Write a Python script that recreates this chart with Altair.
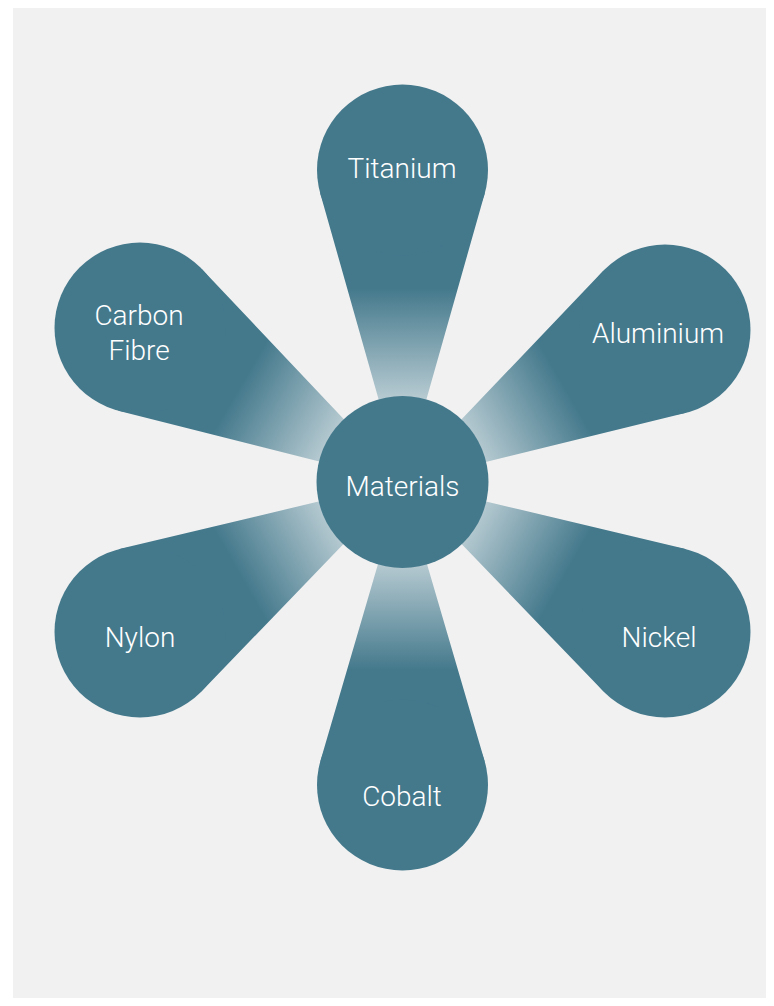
import altair as alt
import numpy as np
import pandas as pd

# ---- data (in reference pixel coordinates) ----
names = ["Titanium", "Aluminium", "Nickel", "Cobalt", "Nylon", "Carbon Fibre"]
end_x = [402.5, 665.0, 665.0, 402.5, 140.0, 140.0]
end_y = [170.0, 330.0, 632.0, 785.0, 632.0, 328.0]
label_x = [402.0, 658.0, 659.0, 402.0, 140.0, 139.0]
label_y = [170.0, 335.0, 639.0, 798.0, 639.0, 317.0]
center_name = "Materials"
center_x = 402.5
center_y = 482.0
center_label_y = 488.0

# ---- style ----
DARK = "#44798c"
BG = "#f1f1f1"
PETAL_D = 171.0
CENTER_D = 172.0
FONT = "Roboto"

X0, X1 = 13, 766
Y0, Y1 = 8, 998

xs = alt.Scale(domain=[X0, X1], nice=False, zero=False)
ys = alt.Scale(domain=[Y0, Y1], nice=False, zero=False, reverse=True)

R = PETAL_D / 2


def tangent_geom(i):
    """Trail end (where the sides touch the petal circle) and its width."""
    ax = end_x[i] - center_x
    ay = end_y[i] - center_y
    L = np.hypot(ax, ay)
    D = (L * L - R * R) / L
    rc = R * np.sqrt(L * L - R * R) / L
    ux, uy = ax / L, ay / L
    return ax, ay, L, D, rc, ux, uy


trail_rows = []
for i, n in enumerate(names):
    ax, ay, L, D, rc, ux, uy = tangent_geom(i)
    trail_rows.append({"name": n, "x": center_x, "y": center_y, "w": 0.0, "i": 0})
    trail_rows.append({"name": n, "x": center_x + ux * D, "y": center_y + uy * D,
                       "w": 2 * rc, "i": 1})
trail_df = pd.DataFrame(trail_rows)

circ_df = pd.DataFrame({"name": names, "x": end_x, "y": end_y})
lab_df = pd.DataFrame({"name": names, "x": label_x, "y": label_y})
cen_df = pd.DataFrame({"name": [center_name], "x": [center_x], "y": [center_y],
                       "ly": [center_label_y]})


def gradient_for(i):
    ax, ay, L, D, rc, ux, uy = tangent_geom(i)
    u = np.array([ux, uy])
    perp = np.array([-uy, ux])
    th = np.linspace(-np.pi / 2, np.pi / 2, 721)
    ex, ey = center_x + ux * D, center_y + uy * D
    px = ex + rc * (np.cos(th) * u[0] + np.sin(th) * perp[0])
    py = ey + rc * (np.cos(th) * u[1] + np.sin(th) * perp[1])
    px = np.append(px, center_x)
    py = np.append(py, center_y)
    xmin, xmax, ymin, ymax = px.min(), px.max(), py.min(), py.max()
    w, h = xmax - xmin, ymax - ymin
    p1 = np.array([(center_x - xmin) / w, (center_y - ymin) / h])
    c = np.array([ax / w, ay / h])
    g0 = np.array([ax / h, ay / w])
    t0 = c.dot(g0) / g0.dot(g0)
    p2 = p1 + g0 * t0
    return alt.LinearGradient(
        gradient="linear",
        stops=[
            alt.GradientStop(offset=0.0, color="#f2f5f6"),
            alt.GradientStop(offset=0.27, color="#b6cad1"),
            alt.GradientStop(offset=0.62, color=DARK),
            alt.GradientStop(offset=1.0, color=DARK),
        ],
        x1=float(p1[0]), y1=float(p1[1]), x2=float(p2[0]), y2=float(p2[1]),
    )


layers = []
for i, n in enumerate(names):
    layers.append(
        alt.Chart(trail_df)
        .transform_filter(alt.datum.name == n)
        .mark_trail(color=gradient_for(i))
        .encode(
            x=alt.X("x:Q", scale=xs, axis=None),
            y=alt.Y("y:Q", scale=ys, axis=None),
            size=alt.Size("w:Q", scale=None, legend=None),
            order=alt.Order("i:Q"),
        )
    )

circles = alt.Chart(circ_df).mark_circle(color=DARK, opacity=1, size=PETAL_D ** 2).encode(
    x=alt.X("x:Q", scale=xs, axis=None), y=alt.Y("y:Q", scale=ys, axis=None)
)

center = alt.Chart(cen_df).mark_circle(color=DARK, opacity=1, size=CENTER_D ** 2).encode(
    x=alt.X("x:Q", scale=xs, axis=None), y=alt.Y("y:Q", scale=ys, axis=None)
)

labels = alt.Chart(lab_df).mark_text(
    color="white", font=FONT, fontSize=28, fontWeight=300, lineBreak="\n", lineHeight=35,
    align="center", baseline="middle"
).encode(
    x=alt.X("x:Q", scale=xs, axis=None),
    y=alt.Y("y:Q", scale=ys, axis=None),
    text=alt.Text("label:N"),
).transform_calculate(label="replace(datum.name, ' ', '\\n')")

center_label = alt.Chart(cen_df).mark_text(
    color="white", font=FONT, fontSize=28, fontWeight=300, align="center", baseline="middle"
).encode(
    x=alt.X("x:Q", scale=xs, axis=None),
    y=alt.Y("ly:Q", scale=ys, axis=None),
    text="name:N",
)

chart = (
    alt.layer(*layers, circles, center, labels, center_label)
    .properties(
        width=X1 - X0,
        height=Y1 - Y0,
        background="white",
        padding={"left": 5, "top": 0, "right": 0, "bottom": 0},
    )
    .configure_view(fill=BG, stroke=None)
)

chart.save("out.html", embed_options={"renderer": "svg", "actions": False})
